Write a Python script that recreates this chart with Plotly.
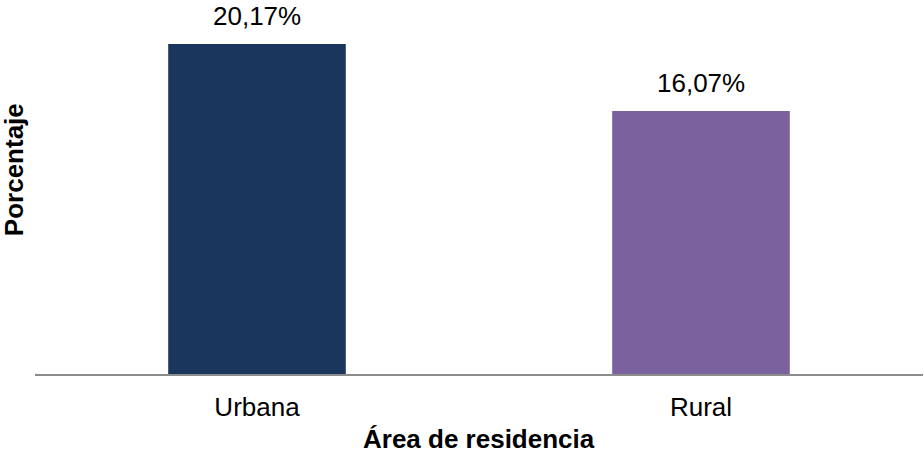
import plotly.graph_objects as go

# Porcentaje por área de residencia
areas = ["Urbana", "Rural"]
porcentajes = [20.17, 16.07]
colores = ["#1B365D", "#7B619D"]

FONT = "Liberation Sans, Arial, sans-serif"
SIZE = 26

fig = go.Figure(
    go.Bar(
        x=areas,
        y=porcentajes,
        marker=dict(color=colores, line=dict(width=0)),
        hoverinfo="skip",
    )
)

# Etiquetas de valor sobre cada barra (coma decimal)
value_labels = [
    dict(
        x=a, y=v, xref="x", yref="y",
        text=f"{v:.2f}".replace(".", ",") + "%",
        showarrow=False,
        xanchor="center", yanchor="bottom",
        yshift=11,
        font=dict(family=FONT, size=SIZE, color="#000000"),
    )
    for a, v in zip(areas, porcentajes)
]

fig.update_layout(
    width=924,
    height=454,
    margin=dict(l=35, r=1, t=10, b=80),
    paper_bgcolor="white",
    plot_bgcolor="white",
    bargap=0.6,
    showlegend=False,
    font=dict(family=FONT, color="#000000"),
    xaxis=dict(
        showline=True,
        linecolor="#8C8C8C",
        linewidth=2,
        ticks="outside",
        ticklen=9,
        tickcolor="rgba(0,0,0,0)",
        tickfont=dict(family=FONT, size=SIZE, color="#000000"),
        showgrid=False,
        zeroline=False,
    ),
    yaxis=dict(
        range=[0, 22.25],
        showticklabels=False,
        showgrid=False,
        zeroline=False,
        showline=False,
    ),
    annotations=value_labels + [
        dict(
            text="<b>Área de residencia</b>",
            xref="paper", yref="paper",
            x=0.5, y=0, yshift=-82,
            xanchor="center", yanchor="bottom",
            showarrow=False,
            font=dict(family=FONT, size=SIZE, color="#000000"),
        ),
        dict(
            text="<b>Porcentaje</b>",
            xref="paper", yref="paper",
            x=0, xshift=-21, y=0.56,
            xanchor="center", yanchor="middle",
            textangle=-90,
            showarrow=False,
            font=dict(family=FONT, size=SIZE, color="#000000"),
        ),
    ],
)

fig.write_html("out.html")
